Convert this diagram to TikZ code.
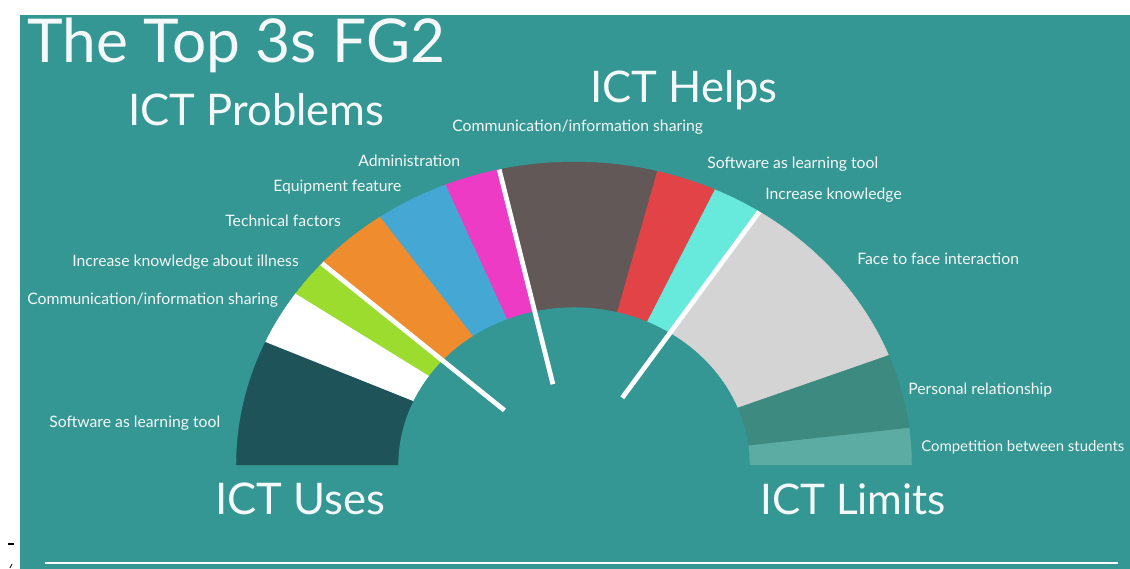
\documentclass[tikz,border=0pt]{standalone}
\usepackage{fontspec}
\setmainfont{Lato}
\definecolor{bgteal}{HTML}{349793}
\definecolor{segdark}{HTML}{1F535A}
\definecolor{seglime}{HTML}{9BDC2E}
\definecolor{segorange}{HTML}{EF8C2E}
\definecolor{segblue}{HTML}{45A7D3}
\definecolor{segmagenta}{HTML}{EE3BC6}
\definecolor{segbrown}{HTML}{625857}
\definecolor{segred}{HTML}{E24346}
\definecolor{segcyan}{HTML}{67E9DC}
\definecolor{seggrey}{HTML}{D4D4D4}
\definecolor{segpers}{HTML}{3D8A80}
\definecolor{segcomp}{HTML}{5DACA4}
\definecolor{txt}{HTML}{F4F8F8}
\begin{document}
\begin{tikzpicture}[x=0.025cm,y=-0.025cm,
  lbl/.style={anchor=base west,inner sep=0pt,text=txt,font=\fontsize{11.2}{13}\selectfont},
  head/.style={anchor=base west,inner sep=0pt,text=txt,font=\fontsize{31}{36}\selectfont},
  ttl/.style={anchor=base west,inner sep=0pt,text=txt,font=\fontsize{43}{50}\selectfont},
  needle/.style={draw=white,line width=3.4pt},
]
\useasboundingbox (0,0) rectangle (1130,569);
\fill[bgteal] (20,15) rectangle (1130,569);
% stray marks
\draw[black,line width=0.8pt] (8,544) -- (14,544);
\draw[black,line width=0.6pt] (10,568) -- (12,564);
% ring
\begin{scope}[shift={(574,465)},xscale=1.114,yscale=-1]
\foreach \a/\b/\c in {180/156/segdark,156/145.5/white,145.5/138.5/seglime,138.5/125/segorange,125/112.3/segblue,112.3/102.8/segmagenta,102.8/75.7/segbrown,75.7/65.3/segred,65.3/56.8/segcyan,56.8/21.2/seggrey,21.2/7/segpers,7/0/segcomp}{
  \filldraw[fill=\c,draw=\c,line width=0.3pt] (\a:158) arc[start angle=\a,end angle=\b,radius=158] -- (\b:303) arc[start angle=\b,end angle=\a,radius=303] -- cycle;
}
\draw[needle] (138.8:83) -- (138.3:303);
\draw[needle] (103.2:83) -- (102.8:303);
\draw[needle] (57.2:80) -- (56.7:303);
\end{scope}
% bottom line
\draw[white,line width=2.1pt] (45,563) -- (1118,563);
% titles
\node[ttl] (title) at (27,63) {The Top 3s FG2};
\node[head] (hprob) at (128,126) {ICT Problems};
\node[head] (hhelp) at (590,103) {ICT Helps};
\node[head] (huses) at (215,515) {ICT Uses};
\node[head,font=\fontsize{30}{36}\selectfont] (hlim) at (760,515) {ICT Limits};
% labels
\node[lbl] (l1) at (49,428) {Software as learning tool};
\node[lbl] (l2) at (27,305) {Communication/information sharing};
\node[lbl] (l3) at (72,267) {Increase knowledge about illness};
\node[lbl] (l4) at (225,227) {Technical factors};
\node[lbl] (l5) at (273,192) {Equipment feature};
\node[lbl] (l6) at (358,167) {Administration};
\node[lbl] (l7) at (452,132) {Communication/information sharing};
\node[lbl] (l8) at (707,169) {Software as learning tool};
\node[lbl] (l9) at (765,200) {Increase knowledge};
\node[lbl] (l10) at (857,265) {Face to face interaction};
\node[lbl] (l11) at (908,395) {Personal relationship};
\node[lbl,font=\fontsize{10.6}{13}\selectfont] (l12) at (921,452) {Competition between students};
\end{tikzpicture}
\end{document}
